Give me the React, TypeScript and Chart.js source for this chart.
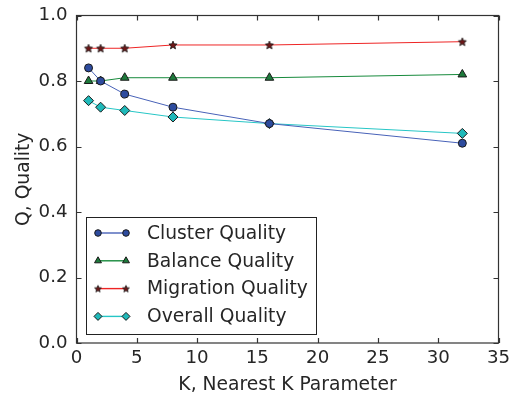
import React, { useEffect, useRef } from "react";
import { Chart, registerables } from "chart.js";

Chart.register(...registerables);

const kValues = [1, 2, 4, 8, 16, 32];
const clusterQuality = [0.84, 0.80, 0.76, 0.72, 0.67, 0.61];
const balanceQuality = [0.80, 0.80, 0.81, 0.81, 0.81, 0.82];
const migrationQuality = [0.90, 0.90, 0.90, 0.91, 0.91, 0.92];
const overallQuality = [0.74, 0.72, 0.71, 0.69, 0.67, 0.64];
const seriesNames = ["Cluster Quality", "Balance Quality", "Migration Quality", "Overall Quality"];
const xTitle = "K, Nearest K Parameter";
const yTitle = "Q, Quality";

const FONT = "'DejaVu Sans', sans-serif";
const TEXT = "#262626";
const AXIS = "#333333";

function starPath(ctx: CanvasRenderingContext2D, cx: number, cy: number, r: number) {
  const inner = r * 0.45;
  ctx.beginPath();
  for (let i = 0; i < 10; i++) {
    const rr = i % 2 === 0 ? r : inner;
    const a = -Math.PI / 2 + (i * Math.PI) / 5;
    const x = cx + rr * Math.cos(a);
    const y = cy + rr * Math.sin(a);
    if (i === 0) ctx.moveTo(x, y);
    else ctx.lineTo(x, y);
  }
  ctx.closePath();
}

function makeStar(fill: string, r: number): HTMLCanvasElement {
  const c = document.createElement("canvas");
  c.width = 12;
  c.height = 12;
  const ctx = c.getContext("2d")!;
  starPath(ctx, 6, 6.4, r);
  ctx.fillStyle = fill;
  ctx.fill();
  ctx.lineWidth = 0.8;
  ctx.strokeStyle = "#1a1a1a";
  ctx.stroke();
  return c;
}

type Style = { line: string; fill: string; shape: string; r: number };
const styles: Style[] = [
  { line: "#4862b8", fill: "#2d4b9e", shape: "circle", r: 4 },
  { line: "#178a3c", fill: "#1d7a3b", shape: "triangle", r: 5 },
  { line: "#ee2424", fill: "#6e1616", shape: "star", r: 5 },
  { line: "#26c6c6", fill: "#1fb9b9", shape: "rectRot", r: 5 },
];

function drawMarker(ctx: CanvasRenderingContext2D, s: Style, x: number, y: number, star: HTMLCanvasElement, r: number) {
  if (s.shape === "star") {
    ctx.drawImage(star, x - 6, y - 6);
    return;
  }
  ctx.beginPath();
  if (s.shape === "circle") {
    ctx.arc(x, y, r, 0, Math.PI * 2);
  } else if (s.shape === "triangle") {
    ctx.moveTo(x, y - r);
    ctx.lineTo(x + r * 0.866, y + r * 0.5);
    ctx.lineTo(x - r * 0.866, y + r * 0.5);
    ctx.closePath();
  } else {
    ctx.moveTo(x, y - r);
    ctx.lineTo(x + r, y);
    ctx.lineTo(x, y + r);
    ctx.lineTo(x - r, y);
    ctx.closePath();
  }
  ctx.fillStyle = s.fill;
  ctx.fill();
  ctx.lineWidth = 1;
  ctx.strokeStyle = "#1a1a1a";
  ctx.stroke();
}

export default function App() {
  const ref = useRef<HTMLCanvasElement>(null);
  useEffect(() => {
    const star = makeStar(styles[2].fill, 4.3);
    const smallStar = makeStar(styles[2].fill, 3.6);
    const allData = [clusterQuality, balanceQuality, migrationQuality, overallQuality];
    const frame = {
      id: "frame",
      afterDatasetsDraw(chart: any) {
        const { ctx, chartArea: a, scales } = chart;
        ctx.save();
        ctx.strokeStyle = AXIS;
        ctx.lineWidth = 1.2;
        ctx.strokeRect(a.left, a.top, a.right - a.left, a.bottom - a.top);
        const tl = 5;
        ctx.beginPath();
        for (const t of scales.x.ticks) {
          const px = Math.round(scales.x.getPixelForValue(t.value)) + 0.5;
          ctx.moveTo(px, a.bottom);
          ctx.lineTo(px, a.bottom - tl);
          ctx.moveTo(px, a.top);
          ctx.lineTo(px, a.top + tl);
        }
        for (const t of scales.y.ticks) {
          const py = Math.round(scales.y.getPixelForValue(t.value)) + 0.5;
          ctx.moveTo(a.left, py);
          ctx.lineTo(a.left + tl, py);
          ctx.moveTo(a.right, py);
          ctx.lineTo(a.right - tl, py);
        }
        ctx.stroke();

        // legend
        const lx = 86, ly = 217, lw = 230, lh = 117;
        ctx.fillStyle = "#ffffff";
        ctx.fillRect(lx, ly, lw, lh);
        ctx.strokeStyle = "#222";
        ctx.lineWidth = 1;
        ctx.strokeRect(lx + 0.5, ly + 0.5, lw, lh);
        ctx.font = `18.7px ${FONT}`;
        ctx.textBaseline = "middle";
        ctx.textAlign = "left";
        const legendR = [3.3, 4, 0, 4];
        for (let i = 0; i < seriesNames.length; i++) {
          const y = 233 + i * 27.8;
          ctx.strokeStyle = styles[i].line;
          ctx.lineWidth = 1.4;
          ctx.beginPath();
          ctx.moveTo(98, y);
          ctx.lineTo(126, y);
          ctx.stroke();
          drawMarker(ctx, styles[i], 98, y, smallStar, legendR[i]);
          drawMarker(ctx, styles[i], 126, y, smallStar, legendR[i]);
          ctx.fillStyle = TEXT;
          ctx.fillText(seriesNames[i], 147, y + 1);
        }
        ctx.restore();
      },
    };

    const chart = new Chart(ref.current!, {
      type: "line",
      data: {
        datasets: allData.map((d, i) => ({
          label: seriesNames[i],
          data: d.map((v, j) => ({ x: kValues[j], y: v })),
          borderColor: styles[i].line,
          borderWidth: 1,
          backgroundColor: styles[i].fill,
          pointBackgroundColor: styles[i].fill,
          pointBorderColor: "#1a1a1a",
          pointBorderWidth: 1,
          pointRadius: styles[i].r,
          pointStyle: (styles[i].shape === "star" ? star : styles[i].shape) as any,
          tension: 0,
          fill: false,
        })),
      },
      options: {
        animation: false,
        responsive: true,
        maintainAspectRatio: false,
        layout: { padding: { left: 0, right: 13.5, top: 15.5, bottom: 0 } },
        plugins: { legend: { display: false }, tooltip: { enabled: false } },
        scales: {
          x: {
            type: "linear",
            min: 0,
            max: 35,
            grid: { display: false, drawTicks: false },
            border: { display: false },
            ticks: { stepSize: 5, color: TEXT, font: { family: FONT, size: 18.2 }, padding: 4, maxRotation: 0 },
            title: { display: true, text: xTitle, color: TEXT, font: { family: FONT, size: 18.7 }, padding: 0 },
            afterFit: (s: any) => { s.height = 53; s.paddingLeft = 0; s.paddingRight = 0; },
          },
          y: {
            min: 0,
            max: 1,
            grid: { display: false, drawTicks: false },
            border: { display: false },
            ticks: { stepSize: 0.2, color: TEXT, font: { family: FONT, size: 18.2 }, padding: 9, callback: (v: any) => Number(v).toFixed(1) },
            title: { display: true, text: yTitle, color: TEXT, font: { family: FONT, size: 18.7 }, padding: { top: 13, bottom: 0 } },
            afterFit: (s: any) => { s.width = 76.5; s.paddingTop = 0; s.paddingBottom = 0; },
          },
        },
      },
      plugins: [frame],
    } as any);
    return () => chart.destroy();
  }, []);
  return (
    <div style={{ position: "fixed", left: 0, top: 0, width: 512, height: 396, background: "#fff" }}>
      <canvas ref={ref} />
    </div>
  );
}
